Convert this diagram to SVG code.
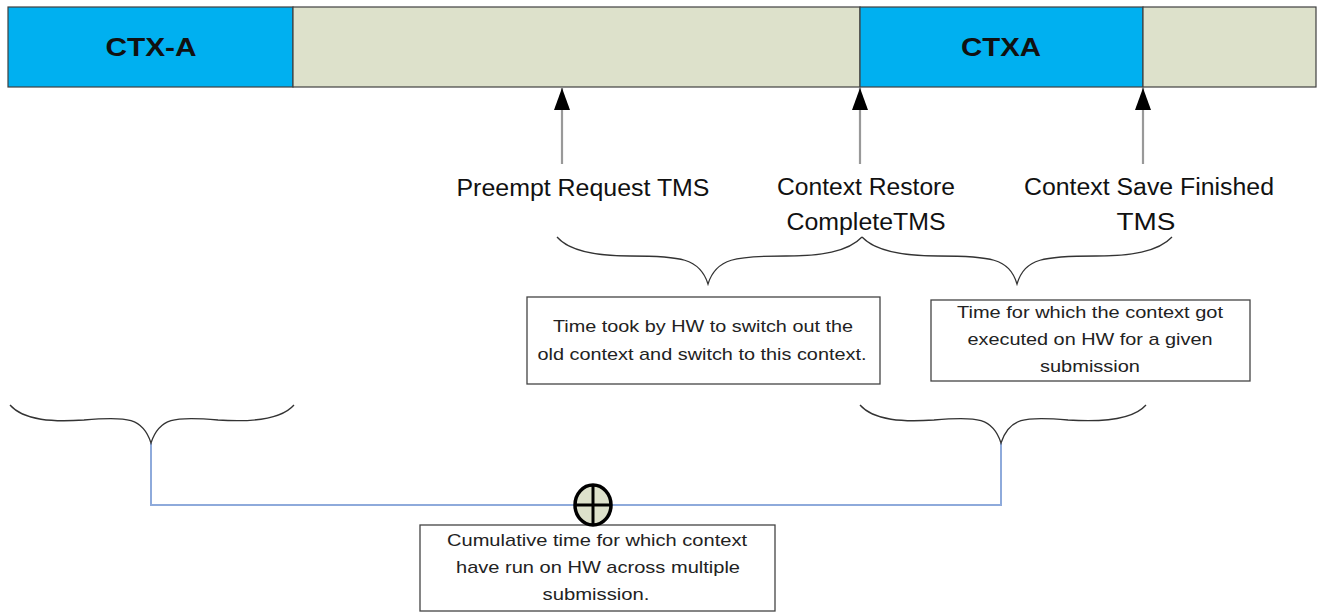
<svg xmlns="http://www.w3.org/2000/svg" width="1323" height="612" viewBox="0 0 1323 612">
<style>
  .ctx { fill: #00B0F0; stroke: #404040; stroke-width: 1.2; }
  .idle { fill: #DDE1CB; stroke: #404040; stroke-width: 1.2; }
  .ctxlabel { font-family: "Liberation Sans", Arial, sans-serif; font-weight: bold; font-size: 26px; fill: #111; text-anchor: middle; }
  .label { font-family: "Liberation Sans", Arial, sans-serif; font-size: 23px; fill: #111; text-anchor: middle; }
  .note { font-family: "Liberation Sans", Arial, sans-serif; font-size: 17px; fill: #222; text-anchor: middle; }
  .box { fill: #fff; stroke: #444; stroke-width: 1.3; }
  .brace { fill: none; stroke: #333; stroke-width: 1.3; }
  .arrow { stroke: #999; stroke-width: 2.2; fill: none; }
  .sum { fill: none; stroke: #8EAADB; stroke-width: 2; }
</style>
<defs>
  <marker id="ah" viewBox="0 0 22 16" refX="22" refY="8" markerUnits="userSpaceOnUse" markerWidth="22" markerHeight="16" orient="auto">
    <path d="M0,0 L22,8 L0,16 Z" fill="#000"/>
  </marker>
</defs>
<rect x="0" y="0" width="1323" height="612" fill="#fff"/>

<g id="bar-ctx-a">
  <rect class="ctx" x="8" y="7" width="285" height="80"/>
  <text class="ctxlabel" x="151" y="56" textLength="91" lengthAdjust="spacingAndGlyphs">CTX-A</text>
</g>
<g id="bar-idle-1">
  <rect class="idle" x="293" y="7" width="567" height="80"/>
</g>
<g id="bar-ctxa">
  <rect class="ctx" x="860" y="7" width="283" height="80"/>
  <text class="ctxlabel" x="1001" y="56" textLength="80" lengthAdjust="spacingAndGlyphs">CTXA</text>
</g>
<g id="bar-idle-2">
  <rect class="idle" x="1143" y="7" width="173" height="80"/>
</g>

<g id="connectors">
  <line class="arrow" x1="562" y1="164" x2="562" y2="88" marker-end="url(#ah)"/>
  <line class="arrow" x1="860" y1="164" x2="860" y2="88" marker-end="url(#ah)"/>
  <line class="arrow" x1="1143" y1="164" x2="1143" y2="88" marker-end="url(#ah)"/>
  <path class="sum" d="M151,443 L151,505 L1001,505 L1001,443"/>
</g>

<g id="label-preempt">
  <text class="label" x="583" y="196" textLength="253" lengthAdjust="spacingAndGlyphs">Preempt Request TMS</text>
</g>
<g id="label-restore">
  <text class="label" x="866" y="195" textLength="178" lengthAdjust="spacingAndGlyphs">Context Restore</text>
  <text class="label" x="866" y="230" textLength="159" lengthAdjust="spacingAndGlyphs">CompleteTMS</text>
</g>
<g id="label-save">
  <text class="label" x="1149" y="195" textLength="250" lengthAdjust="spacingAndGlyphs">Context Save Finished</text>
  <text class="label" x="1146" y="230" textLength="59" lengthAdjust="spacingAndGlyphs">TMS</text>
</g>

<g id="brace-switch">
  <path class="brace" d="M557,237 C570,252 600,256 630,256 C680,256 700,258 708,284 C716,258 736,256 786,256 C820,256 848,252 862,237"/>
</g>
<g id="brace-exec-top">
  <path class="brace" d="M862,237 C876,252 906,256 938,256 C990,256 1009,258 1017,284 C1025,258 1044,256 1096,256 C1130,256 1158,252 1172,237"/>
</g>

<g id="box-switch">
  <rect class="box" x="527" y="297" width="353" height="87"/>
  <text class="note" x="703" y="332" textLength="300" lengthAdjust="spacingAndGlyphs">Time took by HW to switch out the</text>
  <text class="note" x="702" y="360" textLength="329" lengthAdjust="spacingAndGlyphs">old context and switch to this context.</text>
</g>
<g id="box-exec">
  <rect class="box" x="931" y="300" width="319" height="81"/>
  <text class="note" x="1090" y="318" textLength="266" lengthAdjust="spacingAndGlyphs">Time for which the context got</text>
  <text class="note" x="1090" y="345" textLength="245" lengthAdjust="spacingAndGlyphs">executed on HW for a given</text>
  <text class="note" x="1090" y="372" textLength="100" lengthAdjust="spacingAndGlyphs">submission</text>
</g>

<g id="brace-ctx-a">
  <path class="brace" d="M10,405 C24,421 54,422 84,420 C128,416 143,418 151,443 C159,418 174,416 218,420 C248,422 280,421 294,405"/>
</g>
<g id="brace-ctxa">
  <path class="brace" d="M860,405 C874,421 904,422 934,420 C978,416 993,418 1001,443 C1009,418 1024,416 1068,420 C1098,422 1132,421 1146,405"/>
</g>

<g id="box-cumulative">
  <rect class="box" x="420" y="525" width="355" height="86"/>
  <text class="note" x="597" y="546" textLength="300" lengthAdjust="spacingAndGlyphs">Cumulative time for which context</text>
  <text class="note" x="598" y="573" textLength="284" lengthAdjust="spacingAndGlyphs">have run on HW across multiple</text>
  <text class="note" x="596" y="600" textLength="107" lengthAdjust="spacingAndGlyphs">submission.</text>
</g>

<g id="sum-junction">
  <ellipse cx="593" cy="505" rx="18" ry="20" fill="#DDE1CB" stroke="#000" stroke-width="3.5"/>
  <line x1="575" y1="505" x2="611" y2="505" stroke="#000" stroke-width="3"/>
  <line x1="593" y1="485" x2="593" y2="525" stroke="#000" stroke-width="3"/>
</g>
</svg>
